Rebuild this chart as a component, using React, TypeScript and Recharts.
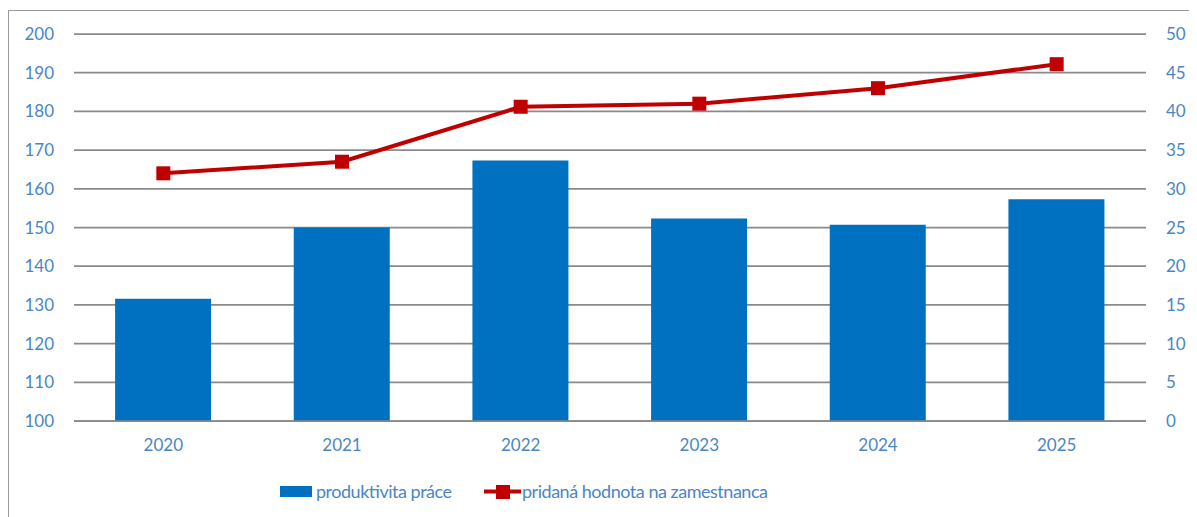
import React from 'react';
import { ComposedChart, Bar, Line, XAxis, YAxis, CartesianGrid, Legend } from 'recharts';

const years = ['2020', '2021', '2022', '2023', '2024', '2025'];
const productivity = [131.6, 150.0, 167.3, 152.3, 150.7, 157.3];
const valueAdded = [32.0, 33.5, 40.6, 41.0, 43.0, 46.1];
const leftTicks = [100, 110, 120, 130, 140, 150, 160, 170, 180, 190, 200];
const rightTicks = [0, 5, 10, 15, 20, 25, 30, 35, 40, 45, 50];

const data = years.map((y, i) => ({ year: y, prod: productivity[i], va: valueAdded[i] }));

const FONT = 'Lato, "Open Sans", sans-serif';
const TEXT = '#4a86c4';
const GRID = '#8a8a8a';
const BLUE = '#0070c0';
const RED = '#c00000';

const Square = (props: any) => {
  const { cx, cy } = props;
  if (cx == null || cy == null) return null;
  return <rect x={cx - 7} y={cy - 7} width={14} height={14} fill={RED} />;
};

const LegendContent = () => (
  <svg width={1172} height={39} style={{ display: 'block' }}>
    <rect x={266} y={8} width={32} height={11} fill={BLUE} />
    <text x={302} y={20} fill={TEXT} fontSize={18} fontFamily={FONT} textLength={136}>produktivita práce</text>
    <line x1={470} y1={13.5} x2={507} y2={13.5} stroke={RED} strokeWidth={4} />
    <rect x={482} y={7} width={14} height={14} fill={RED} />
    <text x={508} y={20} fill={TEXT} fontSize={18} fontFamily={FONT} textLength={246}>pridaná hodnota na zamestnanca</text>
  </svg>
);

export default function App() {
  return (
    <div style={{ position: 'relative', width: 1189, height: 509, fontFamily: FONT }}>
      <div style={{ position: 'absolute', left: 0, top: 2, width: 1189, height: 507, borderLeft: '1.5px solid #9a9a9a', borderTop: '1.5px solid #9a9a9a', boxSizing: 'border-box' }} />
      <ComposedChart
        width={1189}
        height={509}
        data={data}
        margin={{ top: 26, right: 11, left: 6, bottom: 0 }}
        barCategoryGap="23%"
        style={{ position: 'absolute', left: 0, top: 0 }}
      >
        <CartesianGrid yAxisId="left" vertical={false} stroke={GRID} strokeWidth={1.75} />
        <XAxis
          dataKey="year"
          tickLine={false}
          axisLine={{ stroke: GRID, strokeWidth: 1.75 }}
          tick={{ fill: TEXT, fontSize: 17, fontFamily: FONT }}
          tickMargin={12}
          height={57}
        />
        <YAxis
          yAxisId="left"
          domain={[100, 200]}
          ticks={leftTicks}
          interval={0}
          axisLine={false}
          tickLine={false}
          tick={{ fill: TEXT, fontSize: 17, fontFamily: FONT }}
          tickMargin={14}
          width={60}
        />
        <YAxis
          yAxisId="right"
          orientation="right"
          domain={[0, 50]}
          ticks={rightTicks}
          interval={0}
          axisLine={false}
          tickLine={false}
          tick={{ fill: TEXT, fontSize: 17, fontFamily: FONT, textAnchor: 'start' }}
          tickMargin={14}
          width={40}
        />
        <Bar yAxisId="left" dataKey="prod" name="produktivita práce" fill={BLUE} isAnimationActive={false} />
        <Line
          yAxisId="right"
          dataKey="va"
          name="pridaná hodnota na zamestnanca"
          stroke={RED}
          strokeWidth={4}
          dot={<Square />}
          activeDot={false}
          isAnimationActive={false}
        />
        <Legend verticalAlign="bottom" height={39} content={<LegendContent />} />
      </ComposedChart>
    </div>
  );
}
